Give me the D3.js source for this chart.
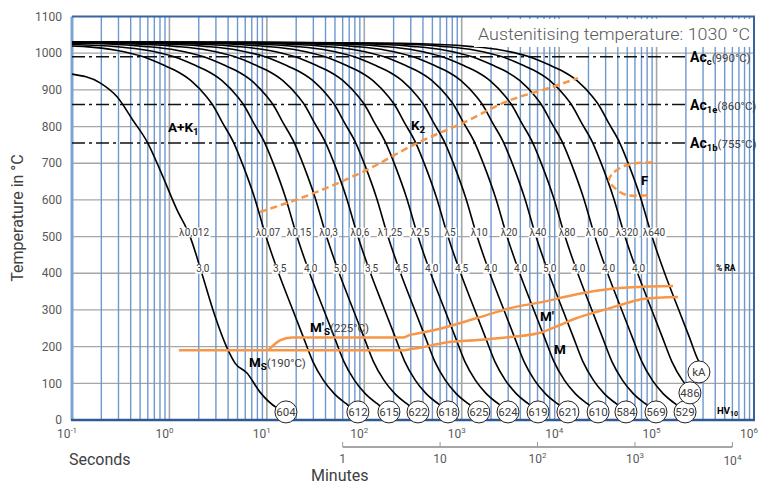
<!DOCTYPE html>
<html lang="en">
<head>
<meta charset="UTF-8">
<title>CCT diagram</title>
<script src="https://cdn.jsdelivr.net/npm/d3@7"></script>
<style>
  body { margin: 0; background: #fff; }
  svg { display: block; font-family: Roboto, "Noto Sans", sans-serif; }
</style>
</head>
<body>
<svg id="chart" width="766" height="484"></svg>
<script>
// ---- data ----
// cooling parameter labels (lambda) and retained austenite (% RA)
var lambdaLabels = ["0,012", "0,07", "0,15", "0,3", "0,6", "1,25", "2,5", "5", "10", "20", "40", "80", "160", "320", "640"];
var raLabels = ["3,0", "3,5", "4,0", "5,0", "3,5", "4,5", "4,0", "4,5", "4,0", "4,0", "5,0", "4,0", "4,0", "4,0", null];

// fastest curve (lambda 0,012), seconds / degC
var fastTime = [0.1, 0.194, 0.29, 0.42, 0.60, 0.80, 1.2, 1.63, 2.15, 2.80, 3.99, 4.71, 6.25, 8.5, 12.7, 15.7];
var fastTemp = [943, 919, 881, 818, 755, 682, 572, 500, 400, 300, 191, 155, 128, 76, 33, 22];

// other curves: time (s) at which they pass 500 degC
var t500 = [9.8, 20.4, 41, 86, 175, 356, 723, 1440, 2920, 5790, 11500, 23300, 47400, 89800];
// common shape of those curves: decades from the 500 degC point -> degC
var profOff  = [-7, -4.1, -2.57, -1.85, -1.54, -1.26, -1.03, -0.94, -0.77, -0.61, -0.55, -0.45, -0.33, -0.23, -0.12, 0, 0.13, 0.26, 0.38, 0.48, 0.59, 0.70, 0.82, 0.94];
var profTemp = [1030, 1030, 1027, 1018, 1008, 990, 965, 954, 925, 881, 860, 812, 755, 690, 608, 500, 400, 310, 228, 160, 108, 72, 45, 22];

// hardness circles at the curve ends
var hvLabels = ["604", "612", "615", "622", "618", "625", "624", "619", "621", "610", "584", "569", "529", "486", "kA"];
var hvTime = [15.7, 86, 179, 356, 723, 1500, 2985, 6070, 12300, 25100, 48500, 98600, 196000, 220000, 272000];
var hvTemp = [22, 22, 22, 22, 22, 22, 22, 22, 22, 22, 22, 22, 22, 74, 131];

// critical temperatures
var acTemps = [990, 860, 755];
var acSubs = ["c", "1e", "1b"];

// martensite start lines
var msTime = [1.25, 249, 294, 373, 643, 1436, 3133, 6823, 10200, 15240, 22250, 33270, 49700, 72560, 166000];
var msTemp = [190, 190, 193, 197, 210, 218, 226, 240, 259, 278, 292, 305, 319, 330, 335];
var ms2Time = [10.3, 11.3, 13.6, 18.1, 249, 294, 373, 643, 1436, 3133, 6823, 15240, 33270, 72560, 147600];
var ms2Temp = [190, 200, 217, 225, 225, 232, 237, 251, 278, 305, 322, 343, 357, 363, 365];

// carbide (K2) and ferrite (F) boundaries
var k2Time = [8.5, 32.7, 106.6, 348, 1030, 3133, 6823, 15590];
var k2Temp = [567, 622, 682, 755, 810, 872, 900, 932];
var fTime = [90500, 49700, 35700, 32500, 37400, 49700, 81700];
var fTemp = [703, 695, 673, 654, 632, 613, 613];

var yTicks = [0, 100, 200, 300, 400, 500, 600, 700, 800, 900, 1000, 1100];
var secExp = [-1, 0, 1, 2, 3, 4, 5, 6];
var minTicks = [1, 10, 100, 1000, 10000];
var minLabels = [["1", ""], ["10", ""], ["10", "2"], ["10", "3"], ["10", "4"]];

// ---- drawing ----
var svg = d3.select("#chart");
var x = d3.scaleLog().domain([0.1, 1e6]).range([72, 754]);
var y = d3.scaleLinear().domain([0, 1100]).range([420, 16.5]);
var orange = "#f79646";

function zip(a, b) { return a.map(function (v, i) { return [v, b[i]]; }); }

function tempAt(off) {
    var i = d3.bisectRight(profOff, off);
    if (i <= 0) return profTemp[0];
    if (i >= profOff.length) return profTemp[profTemp.length - 1];
    var f = (off - profOff[i - 1]) / (profOff[i] - profOff[i - 1]);
    return profTemp[i - 1] + f * (profTemp[i] - profTemp[i - 1]);
}

function famPoints(ts, tEnd) {
    var u0 = Math.log10(ts), ue = Math.log10(tEnd);
    var pts = [[0.1, tempAt(-1 - u0)]];
    profOff.forEach(function (o, i) {
        var u = u0 + o;
        if (u > -1 && u < ue) pts.push([Math.pow(10, u), profTemp[i]]);
    });
    pts.push([tEnd, tempAt(ue - u0)]);
    return pts;
}

// time where a curve crosses temperature T (for label placement)
function timeAt(pts, T) {
    for (var i = 0; i < pts.length - 1; i++) {
        if (pts[i][1] >= T && pts[i + 1][1] < T) {
            var a = Math.log10(pts[i][0]), b = Math.log10(pts[i + 1][0]);
            var f = (pts[i][1] - T) / (pts[i][1] - pts[i + 1][1]);
            return Math.pow(10, a + f * (b - a));
        }
    }
    return null;
}

var curves = [zip(fastTime, fastTemp)];
t500.forEach(function (ts, i) { curves.push(famPoints(ts, hvTime[i + 1])); });

// grid
var grid = svg.append("g");
grid.selectAll("line.h").data(yTicks.slice(1, -1)).enter().append("line")
    .attr("x1", 72).attr("x2", 754)
    .attr("y1", function (d) { return y(d); }).attr("y2", function (d) { return y(d); })
    .attr("stroke", "#a6a6a6").attr("stroke-width", 1.3);

var allTicks = x.ticks();
function isDecade(t) { var l = Math.log10(t); return Math.abs(l - Math.round(l)) < 1e-6; }
grid.selectAll("line.minor").data(allTicks.filter(function (t) { return !isDecade(t); })).enter().append("line")
    .attr("x1", function (d) { return x(d); }).attr("x2", function (d) { return x(d); })
    .attr("y1", 16.5).attr("y2", 420)
    .attr("stroke", "#6f98cf").attr("stroke-width", 1.4);
grid.selectAll("line.major").data(allTicks.filter(function (t) { return isDecade(t) && t > 0.1 && t < 1e6; })).enter().append("line")
    .attr("x1", function (d) { return x(d); }).attr("x2", function (d) { return x(d); })
    .attr("y1", 16.5).attr("y2", 420)
    .attr("stroke", "#a6a6a6").attr("stroke-width", 1.6);

// frame
svg.append("line").attr("x1", 72).attr("x2", 72).attr("y1", 16.5).attr("y2", 420)
    .attr("stroke", "#7da2d4").attr("stroke-width", 3);
svg.append("path")
    .attr("d", "M72," + y(1100) + "H754V420")
    .attr("fill", "none").attr("stroke", "#3a62a0").attr("stroke-width", 2);
svg.append("line").attr("x1", 71).attr("x2", 755).attr("y1", 420).attr("y2", 420)
    .attr("stroke", "#2f5a96").attr("stroke-width", 2.5);

// Ac lines
svg.selectAll("line.ac").data(acTemps).enter().append("line")
    .attr("x1", 72).attr("x2", 686)
    .attr("y1", function (d) { return y(d); }).attr("y2", function (d) { return y(d); })
    .attr("stroke", "#111").attr("stroke-width", 1.5)
    .attr("stroke-dasharray", "13,4,3,4");

var line = d3.line()
    .x(function (d) { return x(d[0]); })
    .y(function (d) { return y(d[1]); });

// cooling curves
svg.append("g").selectAll("path").data(curves).enter().append("path")
    .attr("d", line.curve(d3.curveMonotoneX))
    .attr("fill", "none").attr("stroke", "#000").attr("stroke-width", 1.6);

// orange phase boundaries
var mono = d3.line().x(function (d) { return x(d[0]); }).y(function (d) { return y(d[1]); }).curve(d3.curveMonotoneX);
svg.append("path").attr("d", mono(zip(msTime, msTemp)))
    .attr("fill", "none").attr("stroke", orange).attr("stroke-width", 2.5);
svg.append("path").attr("d", mono(zip(ms2Time, ms2Temp)))
    .attr("fill", "none").attr("stroke", orange).attr("stroke-width", 2.5);
svg.append("path").attr("d", mono(zip(k2Time, k2Temp)))
    .attr("fill", "none").attr("stroke", orange).attr("stroke-width", 2.5)
    .attr("stroke-dasharray", "7,4");
var cat = d3.line().x(function (d) { return x(d[0]); }).y(function (d) { return y(d[1]); }).curve(d3.curveCatmullRom);
svg.append("path").attr("d", cat(zip(fTime, fTemp)))
    .attr("fill", "none").attr("stroke", orange).attr("stroke-width", 2.5)
    .attr("stroke-dasharray", "7,4");

// labels with white background
function boxedText(g, px, py, txt, size) {
    var t = g.append("text").attr("x", px).attr("y", py).attr("text-anchor", "middle")
        .attr("font-size", size).attr("fill", "#404040").text(txt);
    var b = t.node().getBBox();
    g.insert("rect", function () { return t.node(); })
        .attr("x", b.x - 1).attr("y", b.y + 1).attr("width", b.width + 2).attr("height", b.height - 1)
        .attr("fill", "#fff");
}
var labG = svg.append("g");
curves.forEach(function (pts, i) {
    var t5 = timeAt(pts, 500);
    boxedText(labG, x(t5) + (i === 0 ? 4 : 2), y(500) - 1, "\u03bb" + lambdaLabels[i], 10);
    if (raLabels[i]) {
        var t4 = timeAt(pts, 400);
        boxedText(labG, x(t4) + 1, y(400) - 1.5, raLabels[i], 10);
    }
});

// hardness circles
var hv = svg.append("g").selectAll("g").data(hvLabels).enter().append("g")
    .attr("transform", function (d, i) { return "translate(" + x(hvTime[i]) + "," + y(hvTemp[i]) + ")"; });
hv.append("circle").attr("r", 11).attr("fill", "#fff").attr("stroke", "#222").attr("stroke-width", 1);
hv.append("text").attr("text-anchor", "middle").attr("dy", "0.36em")
    .attr("font-size", 11.5).attr("fill", "#404040").text(function (d) { return d; });

// y axis
svg.append("g").selectAll("text").data(yTicks).enter().append("text")
    .attr("x", 62).attr("y", function (d) { return y(d); }).attr("dy", "0.35em")
    .attr("text-anchor", "end").attr("font-size", 12).attr("fill", "#595959")
    .text(function (d) { return d; });
svg.append("text").attr("transform", "translate(23,218) rotate(-90)")
    .attr("text-anchor", "middle").attr("font-size", 16).attr("fill", "#404040")
    .text("Temperature in \u00b0C");

// seconds axis labels
var sx = svg.append("g").selectAll("text").data(secExp).enter().append("text")
    .attr("x", function (d) { return x(Math.pow(10, d)) - 5; }).attr("y", 438)
    .attr("text-anchor", "middle").attr("font-size", 12).attr("fill", "#595959");
sx.append("tspan").text("10");
sx.append("tspan").attr("dy", -5).attr("font-size", 8).text(function (d) { return d; });
svg.append("text").attr("x", 69).attr("y", 465).attr("font-size", 16).attr("fill", "#404040").text("Seconds");

// minutes axis
svg.append("line").attr("x1", x(60)).attr("x2", x(600000)).attr("y1", 447).attr("y2", 447)
    .attr("stroke", "#a6a6a6").attr("stroke-width", 2);
svg.append("g").selectAll("line").data(minTicks).enter().append("line")
    .attr("x1", function (d) { return x(d * 60); }).attr("x2", function (d) { return x(d * 60); })
    .attr("y1", 442).attr("y2", 447).attr("stroke", "#999").attr("stroke-width", 1);
var mx = svg.append("g").selectAll("text").data(minTicks).enter().append("text")
    .attr("x", function (d) { return x(d * 60); }).attr("y", function (d, i) { return i === 4 ? 465 : 463; })
    .attr("text-anchor", "middle").attr("font-size", 12).attr("fill", "#595959");
mx.append("tspan").text(function (d, i) { return minLabels[i][0]; });
mx.append("tspan").attr("dy", -5).attr("font-size", 8).text(function (d, i) { return minLabels[i][1]; });
svg.append("text").attr("x", 311).attr("y", 481).attr("font-size", 16).attr("fill", "#404040").text("Minutes");

// title box
svg.append("rect").attr("x", 474).attr("y", 19).attr("width", 278).attr("height", 28).attr("fill", "#fff");
svg.append("text").attr("x", 478).attr("y", 40).attr("font-size", 17).attr("font-weight", 300).attr("fill", "#595959")
    .attr("textLength", 272).attr("lengthAdjust", "spacingAndGlyphs")
    .text("Austenitising temperature: 1030 \u00b0C");

// Ac labels
var acT = svg.append("g").selectAll("text").data(acTemps).enter().append("text")
    .attr("x", 690).attr("y", function (d) { return y(d) + 5; });
acT.append("tspan").attr("font-size", 14).attr("font-weight", "bold").attr("fill", "#000").text("Ac");
acT.append("tspan").attr("font-size", 9.5).attr("font-weight", "bold").attr("dy", 3).attr("fill", "#000")
    .text(function (d, i) { return acSubs[i]; });
acT.append("tspan").attr("font-size", 11.5).attr("dy", -3).attr("fill", "#404040")
    .text(function (d) { return "(" + d + "\u00b0C)"; });

// phase region labels
function phaseLabel(px, py, main, sub, suffix, size) {
    var t = svg.append("text").attr("x", px).attr("y", py).attr("fill", "#000");
    t.append("tspan").attr("font-size", size).attr("font-weight", "bold").text(main);
    if (sub) t.append("tspan").attr("font-size", size * 0.72).attr("font-weight", "bold").attr("dy", 3).text(sub);
    if (suffix) t.append("tspan").attr("font-size", 11.5).attr("fill", "#404040").attr("dy", sub ? -3 : 0).text(suffix);
}
phaseLabel(168, 132, "A+K", "1", null, 13.5);
phaseLabel(411, 130, "K", "2", null, 13.5);
phaseLabel(641, 185, "F", null, null, 13);
phaseLabel(310, 332, "M'", "S", "(225\u00b0C)", 13.5);
phaseLabel(249, 367, "M", "S", "(190\u00b0C)", 13.5);
phaseLabel(540, 321, "M'", null, null, 13.5);
phaseLabel(554, 354, "M", null, null, 13.5);

svg.append("text").attr("x", 716).attr("y", 271).attr("font-size", 8.5).attr("font-weight", "bold").text("% RA");
var hvT = svg.append("text").attr("x", 717).attr("y", 414).attr("font-weight", "bold");
hvT.append("tspan").attr("font-size", 9.5).text("HV");
hvT.append("tspan").attr("font-size", 7).attr("dy", 2).text("10");
</script>
</body>
</html>
